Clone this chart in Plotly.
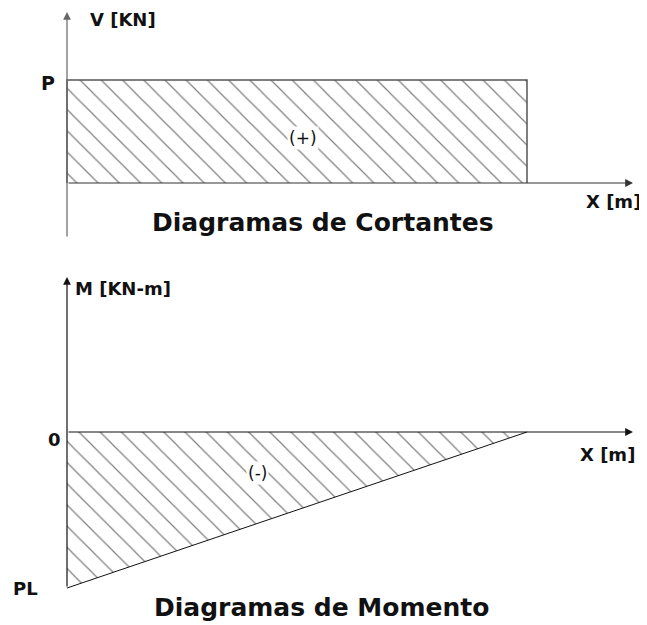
import plotly.graph_objects as go

# cantilever with tip load: x in units of L, V in units of P, M in units of P*L
x_beam = [0.0, 1.0]
shear = [1.0, 1.0]
moment = [-1.0, 0.0]

shear_labels = ["P"]
moment_labels = ["0", "PL"]

PAGE_W, PAGE_H = 647, 625
OFF = 8  # default body margin of the html page
W, H = PAGE_W - OFF, PAGE_H - OFF
FONT = "DejaVu Sans"
HATCH = dict(shape="\\", size=15, solidity=0.08, fgcolor="#000000", bgcolor="white")


def px_map(p0, p1, v0, v1):
    """linear map from page pixel to data value (two anchor points)"""
    k = (v1 - v0) / (p1 - p0)
    return lambda p: v0 + (p - p0) * k


# where the beam ends / zero lines sit on the page
fx = px_map(67, 527, x_beam[0], x_beam[-1])
fv = px_map(183, 80, 0.0, shear[0])
fm = px_map(432, 588, 0.0, moment[0])

fig = go.Figure()

# shear diagram
fig.add_trace(go.Scatter(
    x=x_beam, y=shear, mode="lines", line=dict(width=0),
    fill="tozeroy", fillcolor="rgba(0,0,0,0)", fillpattern=HATCH,
    xaxis="x", yaxis="y", hoverinfo="skip",
))
fig.add_trace(go.Scatter(
    x=[x_beam[0], x_beam[0], x_beam[-1], x_beam[-1]],
    y=[0, shear[0], shear[-1], 0],
    mode="lines", line=dict(color="#555555", width=1.5),
    xaxis="x", yaxis="y", hoverinfo="skip",
))

# moment diagram
fig.add_trace(go.Scatter(
    x=x_beam, y=moment, mode="lines", line=dict(color="#111111", width=1),
    fill="tozeroy", fillcolor="rgba(0,0,0,0)", fillpattern=HATCH,
    xaxis="x2", yaxis="y2", hoverinfo="skip",
))


def arrow(x, y, ax, ay, xr, yr, color):
    return dict(x=x, y=y, ax=ax, ay=ay, xref=xr, yref=yr, axref=xr, ayref=yr,
                text="", showarrow=True, arrowhead=2, arrowsize=1.3,
                arrowwidth=1.2, arrowcolor=color, standoff=0, startstandoff=0)


def label(text, x, y, xr, yr, size, bold=True, **kw):
    t = f"<b>{text}</b>" if bold else text
    return dict(text=t, x=x, y=y, xref=xr, yref=yr, showarrow=False,
                font=dict(family=FONT, size=size, color="#111111"), **kw)


annotations = [
    # axes of the shear diagram
    arrow(fx(633), 0, x_beam[0], 0, "x", "y", "#333333"),
    arrow(x_beam[0], fv(12), x_beam[0], fv(238), "x", "y", "#666666"),
    # axes of the moment diagram
    arrow(fx(633), 0, x_beam[0], 0, "x2", "y2", "#111111"),
    arrow(x_beam[0], fm(277), x_beam[0], moment[0], "x2", "y2", "#111111"),

    label("V [KN]", fx(88), fv(19), "x", "y", 18, xanchor="left"),
    label(shear_labels[0], x_beam[0], shear[0], "x", "y", 19,
          xanchor="right", xshift=-10, yshift=-3),
    label("(+)", fx(303), fv(138), "x", "y", 17, bold=False, bgcolor="white"),
    label("X [m]", fx(643), fv(201), "x", "y", 18, xanchor="right"),
    label("Diagramas de Cortantes", fx(323), fv(222), "x", "y", 25),

    label("M [KN-m]", fx(73), fm(288), "x2", "y2", 18, xanchor="left"),
    label(moment_labels[0], x_beam[0], 0, "x2", "y2", 18,
          xanchor="right", xshift=-4, yshift=-7),
    label(moment_labels[1], x_beam[0], moment[0], "x2", "y2", 18,
          xanchor="right", xshift=-27),
    label("(-)", fx(257), fm(473), "x2", "y2", 17, bold=False, bgcolor="white"),
    label("X [m]", fx(637), fm(454), "x2", "y2", 18, xanchor="right"),
    label("Diagramas de Momento", fx(321), fm(607), "x2", "y2", 25),
]

hidden = dict(visible=False, fixedrange=True)
fig.update_layout(
    width=W, height=H,
    margin=dict(l=0, r=0, t=0, b=0),
    paper_bgcolor="white", plot_bgcolor="white",
    showlegend=False,
    xaxis=dict(domain=[0, 1], range=[fx(OFF), fx(OFF + W)], anchor="y", **hidden),
    yaxis=dict(domain=[1 - (250 - OFF) / H, 1], range=[fv(250), fv(OFF)],
               anchor="x", **hidden),
    xaxis2=dict(domain=[0, 1], range=[fx(OFF), fx(OFF + W)], anchor="y2", **hidden),
    yaxis2=dict(domain=[0, 1 - (255 - OFF) / H], range=[fm(OFF + H), fm(255)],
                anchor="x2", **hidden),
    annotations=annotations,
)

fig.write_html("out.html", config={"displayModeBar": False})
